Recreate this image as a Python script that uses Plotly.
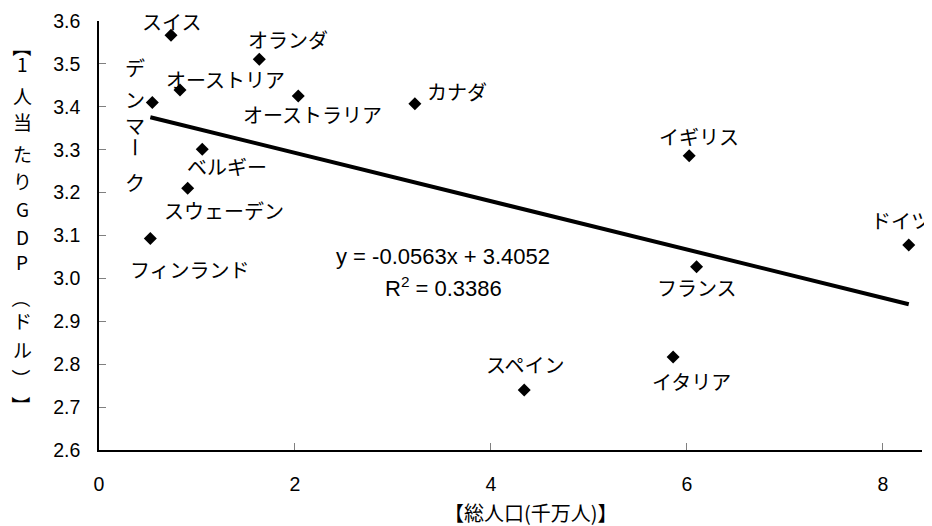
import plotly.graph_objects as go

# ---------------- data ----------------
countries = ["スイス", "デンマーク", "オーストリア", "オランダ", "オーストラリア", "カナダ",
             "ベルギー", "スウェーデン", "フィンランド", "イギリス", "ドイツ", "フランス",
             "イタリア", "スペイン"]
population = [0.735, 0.544, 0.827, 1.636, 2.034, 3.224, 1.054, 0.905, 0.524, 6.024,
              8.265, 6.099, 5.860, 4.340]          # 千万人
gdp_per_capita = [3.567, 3.410, 3.439, 3.511, 3.425, 3.407, 3.301, 3.210, 3.093, 3.286,
                  3.078, 3.027, 2.817, 2.740]      # 1人当たりGDP
trend_slope = -0.0563
trend_intercept = 3.4052
trend_r2 = 0.3386

x_ticks = [0, 2, 4, 6, 8]
y_ticks = [2.6, 2.7, 2.8, 2.9, 3.0, 3.1, 3.2, 3.3, 3.4, 3.5, 3.6]

# ---------------- layout helpers ----------------
PAGE_OFFSET = 8                 # default body margin of the html page
W, H = 932 - PAGE_OFFSET, 526 - PAGE_OFFSET
L, R, T, B = 99 - PAGE_OFFSET, 10, 21 - PAGE_OFFSET, 76
X_RANGE = [0, 8.4]
Y_RANGE = [2.6, 3.6]

JP = "Noto Sans CJK JP, Noto Sans, sans-serif"
NUM = "Liberation Sans, Arial, sans-serif"
ROTATE = set("【】（）ー")

# label offsets (pixels, dx right, dy down) from marker centre
label_offsets = {
    "スイス": (0, -14), "オーストリア": (45, -11), "オランダ": (29, -20),
    "オーストラリア": (14, 18), "カナダ": (42, -12), "ベルギー": (25, 17),
    "スウェーデン": (36, 22), "フィンランド": (40, 31), "イギリス": (10, -19),
    "ドイツ": (-8, -24), "フランス": (0, 21), "イタリア": (18, 25), "スペイン": (1, -25),
}
vertical_label = {"デンマーク": (-17, ["デ", "ン", "マ", "ー", "ク"], [-35, -3, 23, 45, 80])}

fig = go.Figure()

# regression line between min and max population
x0, x1 = min(population), max(population)
fig.add_trace(go.Scatter(
    x=[x0, x1], y=[trend_slope * x0 + trend_intercept, trend_slope * x1 + trend_intercept],
    mode="lines", line=dict(color="black", width=4), hoverinfo="skip", showlegend=False))

fig.add_trace(go.Scatter(
    x=population, y=gdp_per_capita, mode="markers", text=countries,
    marker=dict(symbol="diamond", size=10, color="black"), showlegend=False, cliponaxis=False))

annotations = []
for name, xv, yv in zip(countries, population, gdp_per_capita):
    if name in label_offsets:
        dx, dy = label_offsets[name]
        annotations.append(dict(x=xv, y=yv, xref="x", yref="y", text=name, showarrow=False,
                                xanchor="center", yanchor="middle",
                                xshift=dx, yshift=-dy, font=dict(family=JP, size=20, color="black")))
    elif name in vertical_label:
        dx, chars, dys = vertical_label[name]
        for ch, dy in zip(chars, dys):
            annotations.append(dict(x=xv, y=yv, xref="x", yref="y", text=ch, showarrow=False,
                                    xanchor="center", yanchor="middle",
                                    xshift=dx, yshift=-dy, textangle=90 if ch in ROTATE else 0,
                                    font=dict(family=JP, size=20, color="black")))

plot_w = W - L - R
plot_h = H - T - B


def px_x(px):   # page pixel -> paper fraction
    return (px - PAGE_OFFSET - L) / plot_w


def px_y(py):
    return (H - B - (py - PAGE_OFFSET)) / plot_h


def paper_text(px, py, text, family, size, angle=0):
    return dict(x=px_x(px), y=px_y(py), xref="paper", yref="paper", text=text,
                showarrow=False, xanchor="center", yanchor="middle", textangle=angle,
                font=dict(family=family, size=size, color="black"))


# equation text
annotations.append(paper_text(443, 256, f"y = {trend_slope:.4f}x + {trend_intercept:.4f}", NUM, 22))
annotations.append(paper_text(443, 287, f"R<sup>2</sup> = {trend_r2:.4f}", NUM, 22))

# vertical y-axis title
ytitle_chars = ["【", "1", "人", "当", "た", "り", "G", "D", "P", "（", "ド", "ル", "）", "】"]
ytitle_pos = [47, 63, 95, 121, 153, 180, 208, 236, 262, 298, 320, 349, 378, 405]
for ch, py in zip(ytitle_chars, ytitle_pos):
    annotations.append(paper_text(22, py, ch, JP, 19, 90 if ch in ROTATE else 0))

# x-axis title
annotations.append(paper_text(531, 512, "【総人口(千万人)】", JP, 20))

fig.update_layout(
    width=W, height=H,
    margin=dict(l=L, r=R, t=T, b=B, pad=0),
    paper_bgcolor="white", plot_bgcolor="white",
    annotations=annotations,
    xaxis=dict(range=X_RANGE, tickvals=x_ticks, ticks="inside", ticklen=7, tickcolor="#808080",
               tickwidth=1, showline=True, linecolor="black", linewidth=1.5, showgrid=False,
               zeroline=False, tickfont=dict(family=NUM, size=19.5, color="black"),
               ticklabelstandoff=16, automargin=False),
    yaxis=dict(range=Y_RANGE, tickvals=y_ticks, tickformat=".1f", ticks="inside", ticklen=7,
               tickcolor="#808080", tickwidth=1, showline=True, linecolor="black", linewidth=1.5,
               showgrid=False, zeroline=False, tickfont=dict(family=NUM, size=19.5, color="black"),
               ticklabelstandoff=13, automargin=False),
)

fig.write_html("out.html")
